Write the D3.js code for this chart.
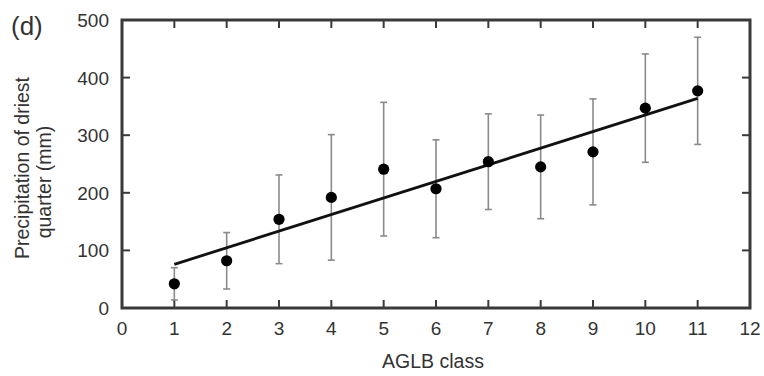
<!DOCTYPE html>
<html>
<head>
<meta charset="utf-8">
<script src="https://cdn.jsdelivr.net/npm/d3@7"></script>
<style>
  body { margin: 0; background: #fff; }
  text { font-family: "Liberation Sans", Arial, sans-serif; fill: #333; }
</style>
</head>
<body>
<svg id="chart" width="764" height="376"></svg>
<script>
// AGLB class vs precipitation of driest quarter
const classes = [1, 2, 3, 4, 5, 6, 7, 8, 9, 10, 11];
const means   = [42, 82, 154, 192, 241, 207, 254, 245, 271, 347, 377];
const errs    = [28, 49, 77, 109, 116, 85, 83, 90, 92, 94, 93];
// fitted line
const fitIntercept = 47;
const fitSlope = 28.8;
const xTicks = [0, 1, 2, 3, 4, 5, 6, 7, 8, 9, 10, 11, 12];
const yTicks = [0, 100, 200, 300, 400, 500];

const margin = { left: 122, right: 14, top: 20, bottom: 68 };
const width = 764, height = 376;

const svg = d3.select("#chart");

const x = d3.scaleLinear().domain([0, 12]).range([margin.left, width - margin.right]);
const y = d3.scaleLinear().domain([0, 500]).range([height - margin.bottom, margin.top]);

const tickLen = 8;
const frameColor = "#3a3a3a";

// inner ticks on all four sides
const g = svg.append("g").attr("stroke", frameColor).attr("stroke-width", 2);
g.selectAll(".tb").data(classes).enter().append("line")
  .attr("x1", d => x(d)).attr("x2", d => x(d))
  .attr("y1", y(0)).attr("y2", y(0) - tickLen);
g.selectAll(".tt").data(classes).enter().append("line")
  .attr("x1", d => x(d)).attr("x2", d => x(d))
  .attr("y1", y(500)).attr("y2", y(500) + tickLen);
g.selectAll(".tl").data(yTicks.slice(1, -1)).enter().append("line")
  .attr("x1", x(0)).attr("x2", x(0) + tickLen)
  .attr("y1", d => y(d)).attr("y2", d => y(d));
g.selectAll(".tr").data(yTicks.slice(1, -1)).enter().append("line")
  .attr("x1", x(12)).attr("x2", x(12) - tickLen)
  .attr("y1", d => y(d)).attr("y2", d => y(d));

// frame
svg.append("rect")
  .attr("x", x(0)).attr("y", y(500))
  .attr("width", x(12) - x(0)).attr("height", y(0) - y(500))
  .attr("fill", "none").attr("stroke", frameColor).attr("stroke-width", 3);

// tick labels
svg.selectAll(".xl").data(xTicks).enter().append("text")
  .attr("x", d => x(d)).attr("y", 335)
  .attr("text-anchor", "middle").style("font-size", "19px")
  .text(d => d);
svg.selectAll(".yl").data(yTicks).enter().append("text")
  .attr("x", 109).attr("y", d => y(d) + 7)
  .attr("text-anchor", "end").style("font-size", "19px")
  .text(d => d);

// error bars
const eb = svg.append("g").attr("stroke", "#8a8a8a").attr("stroke-width", 1.6);
classes.forEach((c, i) => {
  const lo = y(means[i] - errs[i]), hi = y(means[i] + errs[i]);
  eb.append("line").attr("x1", x(c)).attr("x2", x(c)).attr("y1", lo).attr("y2", hi);
  eb.append("line").attr("x1", x(c) - 3.5).attr("x2", x(c) + 3.5).attr("y1", lo).attr("y2", lo);
  eb.append("line").attr("x1", x(c) - 3.5).attr("x2", x(c) + 3.5).attr("y1", hi).attr("y2", hi);
});

// regression line
const fitX = [classes[0], classes[classes.length - 1]];
svg.append("path")
  .datum(fitX)
  .attr("d", d3.line().x(d => x(d)).y(d => y(fitIntercept + fitSlope * d)))
  .attr("fill", "none").attr("stroke", "#111").attr("stroke-width", 2.8);

// means
svg.selectAll(".pt").data(classes).enter().append("circle")
  .attr("cx", d => x(d)).attr("cy", (d, i) => y(means[i]))
  .attr("r", 5.6).attr("fill", "#000");

// axis titles
svg.append("text")
  .attr("x", (x(0) + x(12)) / 2 - 3).attr("y", 368)
  .attr("text-anchor", "middle").style("font-size", "19.5px")
  .text("AGLB class");

svg.append("text")
  .attr("transform", "translate(29,168) rotate(-90)")
  .attr("text-anchor", "middle").style("font-size", "19.5px")
  .text("Precipitation of driest");
svg.append("text")
  .attr("transform", "translate(51,182) rotate(-90)")
  .attr("text-anchor", "middle").style("font-size", "19.5px")
  .text("quarter (mm)");

svg.append("text")
  .attr("x", 11).attr("y", 35)
  .style("font-size", "26px")
  .text("(d)");
</script>
</body>
</html>
